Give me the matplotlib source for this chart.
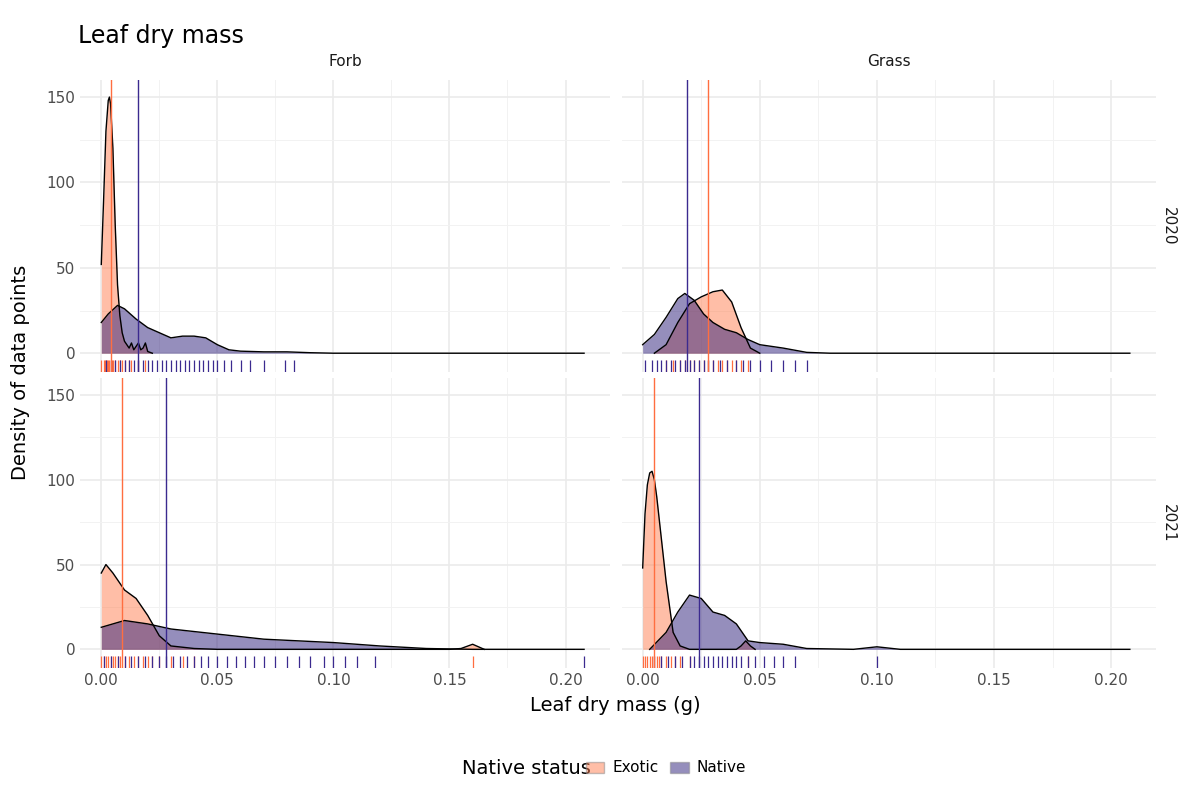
import matplotlib.pyplot as plt
import matplotlib.patches as mpatches
import numpy as np

# density curves (x in g, y density)
forb20_ex_x = [0, .001, .002, .003, .0035, .004, .005, .006, .007, .008, .009, .010, .012, .013, .014, .015, .016, .017, .018, .019, .020, .022]
forb20_ex_y = [52, 90, 130, 148, 150, 146, 120, 75, 40, 22, 12, 7, 3, 6, 2, 4, 6, 2, 3, 6, 1, 0]
forb20_na_x = [0, .003, .007, .010, .015, .020, .025, .030, .035, .040, .045, .050, .055, .060, .070, .080, .090, .100, .150, .208]
forb20_na_y = [18, 23, 28, 26, 20, 15, 12, 9, 10, 10, 9, 5, 2, 1.2, 0.8, 0.8, 0.3, 0, 0, 0]

grass20_ex_x = [.005, .010, .015, .020, .025, .030, .034, .038, .042, .046, .050]
grass20_ex_y = [0, 5, 18, 29, 33, 36, 37, 30, 15, 3, 0]
grass20_na_x = [0, .005, .010, .015, .018, .022, .026, .030, .035, .040, .045, .050, .060, .070, .080, .100, .150, .208]
grass20_na_y = [5, 11, 21, 32, 35, 31, 23, 18, 14, 12, 8, 5, 3, 0.5, 0, 0, 0, 0]

forb21_ex_x = [0, .002, .005, .010, .015, .020, .025, .030, .040, .050, .100, .150, .155, .160, .165]
forb21_ex_y = [45, 50, 45, 35, 30, 20, 8, 2, 0.5, 0, 0, 0, 0.5, 3, 0]
forb21_na_x = [0, .005, .010, .020, .030, .050, .070, .100, .120, .140, .160, .208]
forb21_na_y = [13, 15, 17, 15, 12, 9, 6, 4, 2, 0.5, 0, 0]

grass21_ex_x = [0, .001, .002, .003, .004, .005, .006, .008, .010, .013, .016, .020, .030, .040, .042, .044, .046, .048]
grass21_ex_y = [48, 80, 97, 104, 105, 100, 90, 65, 40, 10, 2, 0, 0, 0, 2, 5, 2, 0]
grass21_na_x = [.003, .010, .015, .020, .025, .030, .035, .040, .045, .050, .060, .070, .090, .100, .110, .150, .208]
grass21_na_y = [0, 10, 22, 32, 30, 22, 20, 15, 5, 4, 3, 0.5, 0, 1.5, 0, 0, 0]

# rug observations and means
forb20_ex_rug = [0.0, .001, .0015, .002, .0025, .003, .0035, .004, .0045, .005, .006, .007, .008, .009, .010, .012, .013, .016, .019]
forb20_na_rug = [.002, .004, .006, .008, .010, .012, .014, .016, .018, .020, .022, .024, .026, .028, .030, .032, .034, .036, .038, .040, .042, .044, .046, .048, .050, .053, .056, .060, .064, .070, .079, .083]
grass20_ex_rug = [.010, .013, .016, .018, .020, .022, .024, .026, .028, .030, .032, .034, .036, .038, .040, .042, .045]
grass20_na_rug = [.001, .004, .006, .008, .010, .012, .014, .016, .018, .020, .022, .024, .026, .028, .030, .033, .036, .040, .043, .046, .050, .055, .060, .065, .070]
forb21_ex_rug = [0.0, .001, .002, .003, .004, .005, .006, .007, .008, .010, .012, .014, .016, .018, .020, .022, .025, .030, .035, .040, .160]
forb21_na_rug = [.001, .004, .007, .010, .013, .016, .019, .022, .025, .028, .031, .034, .037, .040, .043, .046, .050, .054, .058, .062, .066, .070, .075, .080, .085, .090, .096, .100, .105, .110, .118, .208]
grass21_ex_rug = [0.0, .001, .002, .003, .004, .005, .006, .007, .008, .010, .012, .014, .016, .020, .045]
grass21_na_rug = [.005, .008, .011, .014, .017, .020, .022, .024, .026, .028, .030, .032, .034, .036, .038, .040, .042, .045, .048, .052, .056, .060, .065, .100]

means = {'forb20': (.004, .016), 'grass20': (.028, .019), 'forb21': (.009, .028), 'grass21': (.005, .024)}

ex_fill, ex_line = '#FF7F50', '#FF6E40'
na_fill, na_line = '#2D1E7A', '#3B2A8F'

panels = [
    ('forb20', forb20_ex_x, forb20_ex_y, forb20_na_x, forb20_na_y, forb20_ex_rug, forb20_na_rug),
    ('grass20', grass20_ex_x, grass20_ex_y, grass20_na_x, grass20_na_y, grass20_ex_rug, grass20_na_rug),
    ('forb21', forb21_ex_x, forb21_ex_y, forb21_na_x, forb21_na_y, forb21_ex_rug, forb21_na_rug),
    ('grass21', grass21_ex_x, grass21_ex_y, grass21_na_x, grass21_na_y, grass21_ex_rug, grass21_na_rug),
]
rects = [(0.067, 0.535, 0.441, 0.365), (0.518, 0.535, 0.445, 0.365),
         (0.067, 0.165, 0.441, 0.3625), (0.518, 0.165, 0.445, 0.3625)]

fig = plt.figure(figsize=(12, 8), dpi=100)
for i, (key, exx, exy, nax, nay, exr, nar) in enumerate(panels):
    ax = fig.add_axes(rects[i])
    ax.set_xlim(-0.009, 0.219)
    ax.set_ylim(-11, 160)
    ax.set_facecolor('white')
    for s in ax.spines.values():
        s.set_visible(False)
    ax.set_xticks([0, .05, .1, .15, .2])
    ax.set_xticks([.025, .075, .125, .175], minor=True)
    ax.set_yticks([0, 50, 100, 150])
    ax.set_yticks([25, 75, 125], minor=True)
    ax.grid(True, which='major', color='#EBEBEB', lw=1.2)
    ax.grid(True, which='minor', color='#F2F2F2', lw=0.7)
    ax.tick_params(which='both', length=0, labelsize=11, colors='#4D4D4D')
    ax.set_axisbelow(True)
    ax.fill_between(exx, exy, color=ex_fill, alpha=0.5, lw=0)
    ax.plot(exx, exy, color='black', lw=1)
    ax.fill_between(nax, nay, color=na_fill, alpha=0.5, lw=0)
    ax.plot(nax, nay, color='black', lw=1)
    tr = ax.get_xaxis_transform()
    ax.vlines(exr, 0.0, 0.04, transform=tr, color=ex_line, lw=0.9)
    ax.vlines(nar, 0.0, 0.04, transform=tr, color=na_line, lw=0.9)
    ax.axvline(means[key][0], color=ex_line, lw=1)
    ax.axvline(means[key][1], color=na_line, lw=1)
    if i < 2:
        ax.set_xticklabels([])
        ax.set_title(['Forb', 'Grass'][i], fontsize=11, color='#1A1A1A', pad=10)
    else:
        ax.set_xticklabels(['0.00', '0.05', '0.10', '0.15', '0.20'])
    if i % 2 == 1:
        ax.set_yticklabels([])
        ax.text(1.01, 0.5, '2020' if i == 1 else '2021', transform=ax.transAxes,
                rotation=-90, va='center', ha='left', fontsize=11, color='#1A1A1A')

fig.text(0.065, 0.955, 'Leaf dry mass', fontsize=17, ha='left', va='center')
fig.text(0.513, 0.118, 'Leaf dry mass (g)', fontsize=14, ha='center', va='center')
fig.text(0.017, 0.535, 'Density of data points', fontsize=14, rotation=90, ha='center', va='center')

handles = [mpatches.Patch(facecolor=ex_fill, alpha=0.5, edgecolor='#888888', label='Exotic'),
           mpatches.Patch(facecolor=na_fill, alpha=0.5, edgecolor='#888888', label='Native')]
fig.legend(handles=handles, loc='center', bbox_to_anchor=(0.513, 0.04), ncol=2, frameon=False,
           title='Native status', fontsize=11, title_fontsize=14, handlelength=1.2,
           handletextpad=0.5, columnspacing=0.8, alignment='left')
leg = fig.legends[0]
leg._legend_box.align = 'left'
# put title inline to the left
leg.set_title(None)
fig.text(0.385, 0.04, 'Native status', fontsize=14, ha='left', va='center')
leg.set_bbox_to_anchor((0.555, 0.04))

fig.savefig('out.png', dpi=100, facecolor='white')
